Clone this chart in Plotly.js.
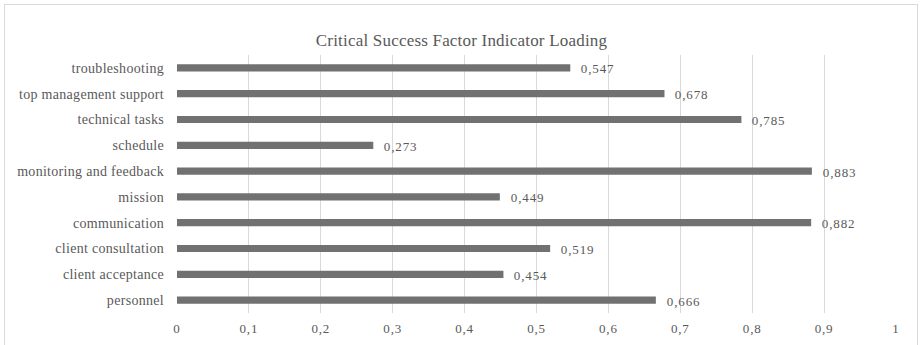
<!DOCTYPE html>
<html>
<head>
<meta charset="utf-8">
<script src="https://cdn.plot.ly/plotly-3.0.1.min.js"></script>
<style>
  html, body { margin: 0; padding: 0; background: #fff; }
  #wrap { position: relative; width: 923px; height: 345px; overflow: hidden; }
  #chart { width: 923px; height: 345px; }
  #frame {
    position: absolute; left: 4px; top: 4px; width: 914px; height: 345px;
    border: 1px solid #d9d9d9; box-sizing: border-box; pointer-events: none;
  }
  /* slightly open tracking, like the office-style serif text */
  #chart .gtitle { letter-spacing: 0.2px; }
  #chart .ytick text { letter-spacing: 0.3px; }
  #chart .xtick text { letter-spacing: 0.8px; }
  #chart .annotation-text { letter-spacing: 0.9px; }
</style>
</head>
<body>
<div id="wrap">
  <div id="chart"></div>
  <div id="frame"></div>
</div>
<script>
// Critical success factors, listed bottom to top as drawn on the y axis
const factors = [
  'personnel',
  'client acceptance',
  'client consultation',
  'communication',
  'mission',
  'monitoring and feedback',
  'schedule',
  'technical tasks',
  'top management support',
  'troubleshooting'
];
const loadings = [0.666, 0.454, 0.519, 0.882, 0.449, 0.883, 0.273, 0.785, 0.678, 0.547];
const xTicks = [0, 0.1, 0.2, 0.3, 0.4, 0.5, 0.6, 0.7, 0.8, 0.9, 1];

const serif = 'Liberation Serif';
const textGray = '#595959';

// decimal comma for the value labels
const fmt = v => v.toFixed(3).replace('.', ',');

const trace = {
  type: 'bar',
  orientation: 'h',
  y: factors,
  x: loadings,
  width: 0.28,
  marker: { color: '#717171' },
  hoverinfo: 'skip'
};

const labels = factors.map((f, i) => ({
  x: loadings[i],
  y: f,
  xref: 'x',
  yref: 'y',
  text: fmt(loadings[i]),
  showarrow: false,
  xanchor: 'left',
  yanchor: 'middle',
  xshift: 11,
  yshift: -1,
  font: { family: serif, size: 13, color: textGray }
}));

const layout = {
  width: 923,
  height: 345,
  margin: { l: 177, r: 27, t: 55, b: 32 },
  paper_bgcolor: '#ffffff',
  plot_bgcolor: '#ffffff',
  separators: ',.',
  showlegend: false,
  title: {
    text: 'Critical Success Factor Indicator Loading',
    x: 0.5,
    xref: 'container',
    xanchor: 'center',
    y: 1 - 40 / 345,
    yanchor: 'middle',
    font: { family: serif, size: 17, color: textGray }
  },
  xaxis: {
    range: [0, 1],
    tickvals: xTicks,
    ticktext: xTicks.map(t => String(t).replace('.', ',')),
    showgrid: true,
    gridcolor: '#d9d9d9',
    gridwidth: 1,
    zeroline: false,
    showline: false,
    ticks: '',
    ticklabelstandoff: 6,
    tickfont: { family: serif, size: 13, color: textGray },
    fixedrange: true
  },
  yaxis: {
    type: 'category',
    categoryorder: 'array',
    categoryarray: factors,
    showgrid: false,
    zeroline: false,
    showline: false,
    ticks: '',
    ticklabelstandoff: 12,
    tickfont: { family: serif, size: 14, color: textGray },
    fixedrange: true
  },
  annotations: labels
};

Plotly.newPlot('chart', [trace], layout, { displayModeBar: false, staticPlot: true });
</script>
</body>
</html>
